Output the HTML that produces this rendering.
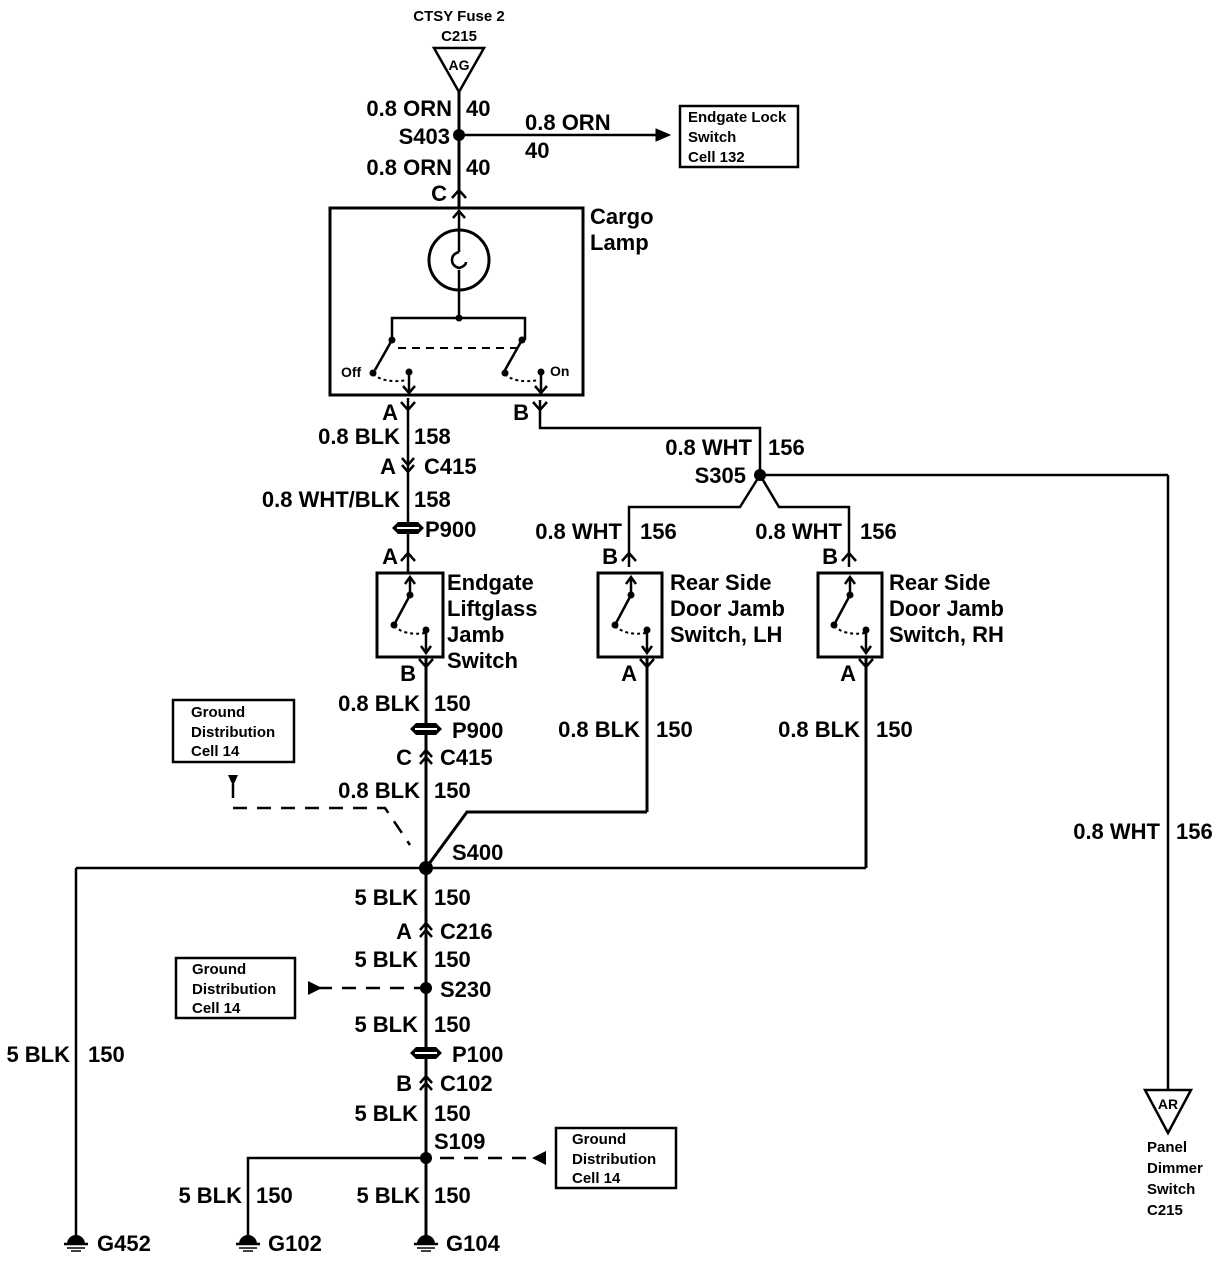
<!DOCTYPE html>
<html><head><meta charset="utf-8"><style>
html,body{margin:0;padding:0;background:#fff}
svg{display:block}
text{font-family:"Liberation Sans",sans-serif;font-weight:bold;fill:#000}
.t{font-size:22px}
.s{font-size:15px}
.r{text-anchor:end}
</style></head><body>
<svg width="1218" height="1280" viewBox="0 0 1218 1280" xmlns="http://www.w3.org/2000/svg">
<defs>
<g id="gnd"><path d="M-9,8 A9,9 0 0 1 9,8 Z" fill="#000"/><line x1="-12" y1="8" x2="12" y2="8" stroke="#000" stroke-width="2.5"/><line x1="-9" y1="12" x2="9" y2="12" stroke="#000" stroke-width="1.5"/><line x1="-5" y1="15" x2="5" y2="15" stroke="#000" stroke-width="1.5"/></g>
<g id="up"><path d="M-7,6 L0,-2 L7,6" fill="none" stroke="#000" stroke-width="2.5"/></g>
<g id="dn"><path d="M-7,-6 L0,2 L7,-6" fill="none" stroke="#000" stroke-width="2.5"/></g>
<g id="dup"><path d="M-6,0 L0,-7 L6,0 M-6,7 L0,0 L6,7" fill="none" stroke="#000" stroke-width="2.5"/></g>
<g id="ddn"><path d="M-6,-7 L0,0 L6,-7 M-6,0 L0,7 L6,0" fill="none" stroke="#000" stroke-width="2.5"/></g>
<g id="pass"><path d="M-16,0 L-10,-6 L10,-6 L16,0 L10,6 L-10,6 Z" fill="#000"/><line x1="-11" y1="0" x2="11" y2="0" stroke="#fff" stroke-width="2"/></g>
</defs>
<g stroke="#000" stroke-width="3" fill="none">
<path d="M434,48 L484,48 L459,92 Z" stroke-width="2.5"/>
<line x1="459" y1="92" x2="459" y2="208"/>
<line x1="459" y1="135" x2="660" y2="135" stroke-width="2.5"/>
<path d="M656,129 L670,135 L656,141 Z" fill="#000" stroke-width="1"/>
<rect x="680" y="106" width="118" height="61" stroke-width="2.5"/>
<rect x="330" y="208" width="253" height="187"/>
<line x1="459" y1="210" x2="459" y2="252" stroke-width="2.5"/>
<line x1="459" y1="270" x2="459" y2="318" stroke-width="2.5"/>
<path d="M459,252 Q452,254 452,260 Q452,266 459,268 Q466,266 466,262" stroke-width="2.5"/>
<path d="M453,218 L459,211 L465,218" stroke-width="2.5"/>
<circle cx="459" cy="260" r="30" stroke-width="3"/>
<path d="M459,318 H392 V340 M459,318 H525 V340" stroke-width="2.5"/>
<line x1="392" y1="340" x2="375" y2="370" stroke-width="2.5"/>
<line x1="522" y1="340" x2="505" y2="370" stroke-width="2.5"/>
<line x1="398" y1="348" x2="518" y2="348" stroke-width="2" stroke-dasharray="8,6"/>
<path d="M373,374 Q385,384 407,380" stroke-width="2" stroke-dasharray="3,3"/>
<path d="M505,374 Q515,384 539,380" stroke-width="2" stroke-dasharray="3,3"/>
<line x1="409" y1="372" x2="409" y2="393" stroke-width="2.5"/>
<path d="M403,386 L409,393 L415,386" stroke-width="2.5"/>
<line x1="541" y1="372" x2="541" y2="393" stroke-width="2.5"/>
<path d="M535,386 L541,393 L547,386" stroke-width="2.5"/>
<line x1="408" y1="398" x2="408" y2="573" stroke-width="2.5"/>
<path d="M540,400 V428 H760 V475" stroke-width="2.5"/>
<line x1="760" y1="475" x2="1168" y2="475" stroke-width="2.5"/>
<line x1="1168" y1="475" x2="1168" y2="1090" stroke-width="2.5"/>
<path d="M1145,1090 L1191,1090 L1168,1133 Z" stroke-width="2.5"/>
<path d="M760,475 L740,507 H629 V567" stroke-width="2.5"/>
<path d="M760,475 L779,507 H849 V567" stroke-width="2.5"/>
<rect x="377" y="573" width="66" height="84"/>
<rect x="598" y="573" width="64" height="84"/>
<rect x="818" y="573" width="64" height="84"/>
<line x1="426" y1="657" x2="426" y2="1236"/>
<line x1="647" y1="657" x2="647" y2="812"/>
<path d="M647,812 H467 L426,868"/>
<line x1="866" y1="657" x2="866" y2="868"/>
<line x1="76" y1="868" x2="866" y2="868" stroke-width="2.5"/>
<line x1="76" y1="868" x2="76" y2="1236" stroke-width="2.5"/>
<path d="M426,1158 H248 V1236" stroke-width="2.5"/>
<rect x="173" y="700" width="121" height="62" stroke-width="2.5"/>
<rect x="176" y="958" width="119" height="60" stroke-width="2.5"/>
<rect x="556" y="1128" width="120" height="60" stroke-width="2.5"/>
<path d="M233,784 V808 H385 L410,845" stroke-width="2.5" stroke-dasharray="14,10"/>
<line x1="318" y1="988" x2="420" y2="988" stroke-width="2.5" stroke-dasharray="14,10"/>
<line x1="440" y1="1158" x2="532" y2="1158" stroke-width="2.5" stroke-dasharray="14,10"/>
</g>
<path d="M228,775 L238,775 L233,786 Z" fill="#000"/>
<path d="M308,981 L322,988 L308,995 Z" fill="#000"/>
<path d="M546,1151 L532,1158 L546,1165 Z" fill="#000"/>
<g fill="#000">
<circle cx="459" cy="135" r="6"/>
<circle cx="459" cy="318" r="3.5"/>
<circle cx="392" cy="340" r="3.5"/><circle cx="522" cy="340" r="3.5"/>
<circle cx="373" cy="373" r="3.5"/><circle cx="505" cy="373" r="3.5"/>
<circle cx="409" cy="372" r="3.5"/><circle cx="541" cy="372" r="3.5"/>
<circle cx="760" cy="475" r="6"/>
<circle cx="426" cy="868" r="7"/>
<circle cx="426" cy="988" r="6"/>
<circle cx="426" cy="1158" r="6"/>
</g>
<g stroke="#000" stroke-width="2.5" fill="none">
<g transform="translate(410,573)"><line x1="0" y1="4" x2="0" y2="22"/><path d="M-5,11 L0,4 L5,11"/><line x1="0" y1="22" x2="-16" y2="52"/><path d="M-16,53 Q-5,63 15,60" stroke-width="2" stroke-dasharray="3,3"/><line x1="16" y1="57" x2="16" y2="80"/><path d="M11,73 L16,80 L21,73"/></g>
<g transform="translate(631,573)"><line x1="0" y1="4" x2="0" y2="22"/><path d="M-5,11 L0,4 L5,11"/><line x1="0" y1="22" x2="-16" y2="52"/><path d="M-16,53 Q-5,63 15,60" stroke-width="2" stroke-dasharray="3,3"/><line x1="16" y1="57" x2="16" y2="80"/><path d="M11,73 L16,80 L21,73"/></g>
<g transform="translate(850,573)"><line x1="0" y1="4" x2="0" y2="22"/><path d="M-5,11 L0,4 L5,11"/><line x1="0" y1="22" x2="-16" y2="52"/><path d="M-16,53 Q-5,63 15,60" stroke-width="2" stroke-dasharray="3,3"/><line x1="16" y1="57" x2="16" y2="80"/><path d="M11,73 L16,80 L21,73"/></g>
</g>
<g fill="#000">
<circle cx="410" cy="595" r="3.5"/><circle cx="394" cy="625" r="3.5"/><circle cx="426" cy="630" r="3.5"/>
<circle cx="631" cy="595" r="3.5"/><circle cx="615" cy="625" r="3.5"/><circle cx="647" cy="630" r="3.5"/>
<circle cx="850" cy="595" r="3.5"/><circle cx="834" cy="625" r="3.5"/><circle cx="866" cy="630" r="3.5"/>
</g>
<g fill="#fff">
<use href="#up" x="459" y="192"/>
<use href="#dn" x="408" y="408"/>
<use href="#dn" x="540" y="408"/>
<use href="#ddn" x="408" y="465"/>
<use href="#pass" x="408" y="528"/>
<use href="#up" x="408" y="555"/>
<use href="#up" x="629" y="555"/>
<use href="#up" x="849" y="555"/>
<use href="#dn" x="426" y="665"/>
<use href="#dn" x="647" y="665"/>
<use href="#dn" x="866" y="665"/>
<use href="#pass" x="426" y="729"/>
<use href="#dup" x="426" y="757"/>
<use href="#dup" x="426" y="930"/>
<use href="#pass" x="426" y="1053"/>
<use href="#dup" x="426" y="1083"/>
<use href="#gnd" x="76" y="1236"/>
<use href="#gnd" x="248" y="1236"/>
<use href="#gnd" x="426" y="1236"/>
</g>
<text class="s" x="459" y="21" text-anchor="middle">CTSY Fuse 2</text>
<text class="s" x="459" y="41" text-anchor="middle">C215</text>
<text x="459" y="70" text-anchor="middle" style="font-size:14px">AG</text>
<text x="1168" y="1109" text-anchor="middle" style="font-size:14px">AR</text>
<g class="t">
<text class="r" x="452" y="116">0.8 ORN</text><text x="466" y="116">40</text>
<text class="r" x="450" y="144">S403</text>
<text x="525" y="130">0.8 ORN</text><text x="525" y="158">40</text>
<text class="r" x="452" y="175">0.8 ORN</text><text x="466" y="175">40</text>
<text class="r" x="447" y="201">C</text>
<text x="590" y="224">Cargo</text><text x="590" y="250">Lamp</text>
<text class="r" x="398" y="420">A</text>
<text class="r" x="529" y="420">B</text>
<text class="r" x="400" y="444">0.8 BLK</text><text x="414" y="444">158</text>
<text class="r" x="396" y="474">A</text><text x="424" y="474">C415</text>
<text class="r" x="400" y="507">0.8 WHT/BLK</text><text x="414" y="507">158</text>
<text x="425" y="537">P900</text>
<text class="r" x="398" y="564">A</text>
<text class="r" x="752" y="455">0.8 WHT</text><text x="768" y="455">156</text>
<text class="r" x="746" y="483">S305</text>
<text class="r" x="622" y="539">0.8 WHT</text><text x="640" y="539">156</text>
<text class="r" x="842" y="539">0.8 WHT</text><text x="860" y="539">156</text>
<text class="r" x="618" y="564">B</text><text class="r" x="838" y="564">B</text>
<text x="447" y="590">Endgate</text><text x="447" y="616">Liftglass</text><text x="447" y="642">Jamb</text><text x="447" y="668">Switch</text>
<text x="670" y="590">Rear Side</text><text x="670" y="616">Door Jamb</text><text x="670" y="642">Switch, LH</text>
<text x="889" y="590">Rear Side</text><text x="889" y="616">Door Jamb</text><text x="889" y="642">Switch, RH</text>
<text class="r" x="416" y="681">B</text>
<text class="r" x="637" y="681">A</text><text class="r" x="856" y="681">A</text>
<text class="r" x="420" y="711">0.8 BLK</text><text x="434" y="711">150</text>
<text x="452" y="738">P900</text>
<text class="r" x="412" y="765">C</text><text x="440" y="765">C415</text>
<text class="r" x="420" y="798">0.8 BLK</text><text x="434" y="798">150</text>
<text class="r" x="640" y="737">0.8 BLK</text><text x="656" y="737">150</text>
<text class="r" x="860" y="737">0.8 BLK</text><text x="876" y="737">150</text>
<text class="r" x="1160" y="839">0.8 WHT</text><text x="1176" y="839">156</text>
<text x="452" y="860">S400</text>
<text class="r" x="418" y="905">5 BLK</text><text x="434" y="905">150</text>
<text class="r" x="412" y="939">A</text><text x="440" y="939">C216</text>
<text class="r" x="418" y="967">5 BLK</text><text x="434" y="967">150</text>
<text x="440" y="997">S230</text>
<text class="r" x="418" y="1032">5 BLK</text><text x="434" y="1032">150</text>
<text x="452" y="1062">P100</text>
<text class="r" x="412" y="1091">B</text><text x="440" y="1091">C102</text>
<text class="r" x="418" y="1121">5 BLK</text><text x="434" y="1121">150</text>
<text x="434" y="1149">S109</text>
<text class="r" x="70" y="1062">5 BLK</text><text x="88" y="1062">150</text>
<text class="r" x="242" y="1203">5 BLK</text><text x="256" y="1203">150</text>
<text class="r" x="420" y="1203">5 BLK</text><text x="434" y="1203">150</text>
<text x="97" y="1251">G452</text><text x="268" y="1251">G102</text><text x="446" y="1251">G104</text>
</g>
<g class="s">
<text x="688" y="122">Endgate Lock</text><text x="688" y="142">Switch</text><text x="688" y="162">Cell 132</text>
<text x="191" y="717">Ground</text><text x="191" y="737">Distribution</text><text x="191" y="756">Cell 14</text>
<text x="192" y="974">Ground</text><text x="192" y="994">Distribution</text><text x="192" y="1013">Cell 14</text>
<text x="572" y="1144">Ground</text><text x="572" y="1164">Distribution</text><text x="572" y="1183">Cell 14</text>
<text x="1147" y="1152">Panel</text><text x="1147" y="1173">Dimmer</text><text x="1147" y="1194">Switch</text><text x="1147" y="1215">C215</text>
<text x="341" y="377" style="font-size:14px">Off</text><text x="550" y="376" style="font-size:14px">On</text>
</g>
</svg>
</body></html>
